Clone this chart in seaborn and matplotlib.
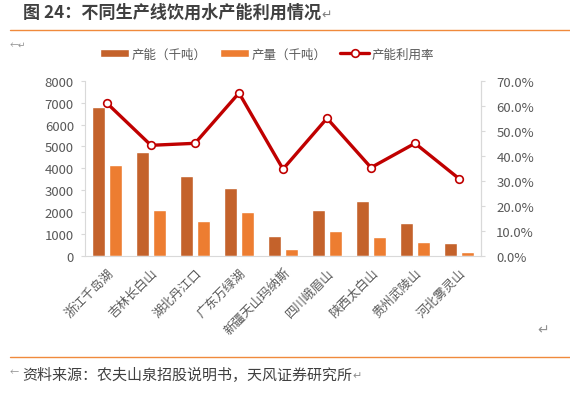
import numpy as np
import pandas as pd
import matplotlib
matplotlib.use("Agg")
import matplotlib.pyplot as plt
import seaborn as sns
from matplotlib.patches import Patch
from matplotlib.lines import Line2D

categories = ["浙江千岛湖", "吉林长白山", "湖北丹江口", "广东万绿湖", "新疆天山玛纳斯",
              "四川峨眉山", "陕西太白山", "贵州武陵山", "河北雾灵山"]
capacity = [6810, 4730, 3640, 3090, 900, 2090, 2500, 1500, 580]
production = [4140, 2090, 1620, 2000, 310, 1120, 880, 660, 170]
utilization = [61.0, 44.2, 45.0, 65.1, 34.7, 55.0, 35.3, 45.0, 30.9]
series_names = ["产能（千吨）", "产量（千吨）", "产能利用率"]
left_ticks = [0, 1000, 2000, 3000, 4000, 5000, 6000, 7000, 8000]
right_ticks = [0, 10, 20, 30, 40, 50, 60, 70]

sns.set_style("white")
FAM = ["Noto Sans CJK SC", "DejaVu Sans"]
plt.rcParams["font.family"] = FAM

C_CAP = "#C4622B"
C_PROD = "#ED7D31"
C_LINE = "#C00000"
GRAY = "#595959"
AX = "#D9D9D9"

df = pd.DataFrame({
    "cat": categories * 2,
    "val": capacity + production,
    "series": [series_names[0]] * len(categories) + [series_names[1]] * len(categories),
})

fig = plt.figure(figsize=(5.7, 4.02), dpi=100)
W, H = 570, 402
ax = fig.add_axes([85 / W, 1 - 257 / H, (481 - 85) / W, (257 - 81.7) / H])

sns.barplot(data=df, x="cat", y="val", hue="series", order=categories,
            hue_order=series_names[:2], palette=[C_CAP, C_PROD],
            width=0.76, gap=0.26, ax=ax, legend=False, saturation=1)
ax.set_xlim(-0.5, len(categories) - 0.5)
ax.set_ylim(0, 8000)
ax.set_yticks(left_ticks)
ax.set_yticklabels([str(v) for v in left_ticks], color=GRAY, fontsize=9.5)
ax.set_xlabel("")
ax.set_ylabel("")
ax.set_xticks(range(len(categories)))
ax.set_xticklabels(categories, rotation=45, ha="right", rotation_mode="anchor",
                   fontsize=9, color=GRAY)
ax.tick_params(axis="x", length=0, pad=7)
ax.tick_params(axis="y", length=3, color=AX, width=0.8, pad=5)
for s in ["top"]:
    ax.spines[s].set_visible(False)
for s in ["left", "bottom", "right"]:
    ax.spines[s].set_color(AX)
    ax.spines[s].set_linewidth(0.8)

ax2 = ax.twinx()
sns.lineplot(x=np.arange(len(categories)), y=utilization, ax=ax2, color=C_LINE,
             linewidth=2.4, marker="o", markersize=5.5, markerfacecolor="white",
             markeredgecolor=C_LINE, markeredgewidth=1.2)
ax2.set_ylim(0, 70)
ax2.set_yticks(right_ticks)
ax2.set_yticklabels([f"{v:.1f}%" for v in right_ticks], color=GRAY, fontsize=9.5)
ax2.tick_params(axis="y", length=3, color=AX, width=0.8, pad=8)
ax2.set_ylabel("")
for s in ["top", "left", "bottom"]:
    ax2.spines[s].set_visible(False)
ax2.spines["right"].set_color(AX)
ax2.spines["right"].set_linewidth(0.8)
ax2.set_xlim(-0.5, len(categories) - 0.5)

handles = [Patch(facecolor=C_CAP), Patch(facecolor=C_PROD),
           Line2D([], [], color=C_LINE, lw=2.4, marker="o", markersize=5.5,
                  markerfacecolor="white", markeredgecolor=C_LINE, markeredgewidth=1.2)]
fig.legend(handles, series_names, loc="center", bbox_to_anchor=(267 / W, 1 - 55 / H),
           ncol=3, frameon=False, fontsize=9, handlelength=2.3, handleheight=0.55,
           columnspacing=1.1, handletextpad=0.2, labelcolor=GRAY)

t = fig.text(23 / W, 1 - 13 / H, "图 24：不同生产线饮用水产能利用情况", fontsize=12.3,
             fontweight="bold", color="#404040", va="center", ha="left")
fig.canvas.draw()
bb = t.get_window_extent()
fig.text(bb.x1 / fig.bbox.width, 1 - 15 / H, "↵", fontsize=9, color="#808080",
         va="center", ha="left")

fig.add_artist(Line2D([10 / W, 1], [1 - 30.5 / H] * 2, color="#F08A3C", lw=1.0,
                      transform=fig.transFigure))
fig.add_artist(Line2D([10 / W, 1], [1 - 358 / H] * 2, color="#F08A3C", lw=1.0,
                      transform=fig.transFigure))
fig.text(10 / W, 1 - 45 / H, "←↵", fontsize=6.5, color="#909090", va="center", ha="left")
fig.text(537 / W, 1 - 330 / H, "↵", fontsize=10, color="#909090", va="center", ha="left")
fig.text(10 / W, 1 - 373 / H, "←", fontsize=6.5, color="#909090", va="center", ha="left")
src = fig.text(22 / W, 1 - 376 / H, "资料来源：农夫山泉招股说明书，天风证券研究所",
               fontsize=10.8, color="#404040", va="center", ha="left")
fig.canvas.draw()
sb = src.get_window_extent()
fig.text(sb.x1 / fig.bbox.width, 1 - 376 / H, "↵", fontsize=8, color="#909090",
         va="center", ha="left")

fig.savefig("out.png", dpi=100)
